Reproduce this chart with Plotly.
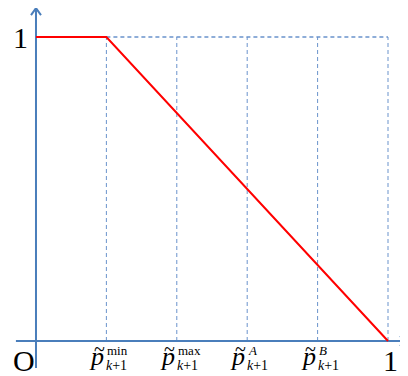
import plotly.graph_objects as go

# data
tick_x = [0.2, 0.4, 0.6, 0.8, 1.0]
tick_sup = ["min", "max", "<i>A</i>", "<i>B</i>"]
curve_x = [0.0, 0.2, 1.0]
curve_y = [1.0, 1.0, 0.0]

AXIS = "#4a7ebb"
DASH = "#6a93cc"
FONT = "Liberation Serif"

fig = go.Figure()

# dashed verticals
for tx in tick_x:
    fig.add_trace(go.Scatter(x=[tx, tx], y=[0, 1], mode="lines",
                             line=dict(color=DASH, width=1, dash="4px,3px"),
                             hoverinfo="skip", showlegend=False))
# dashed horizontal at top
fig.add_trace(go.Scatter(x=[tick_x[0], tick_x[-1]], y=[1, 1], mode="lines",
                         line=dict(color=DASH, width=1.5, dash="4px,3px"),
                         hoverinfo="skip", showlegend=False))

# axes lines
fig.add_trace(go.Scatter(x=[-0.057, 1.051], y=[0, 0], mode="lines",
                         line=dict(color=AXIS, width=2), hoverinfo="skip", showlegend=False))
fig.add_trace(go.Scatter(x=[0, 0], y=[-0.089, 1.095], mode="lines",
                         line=dict(color=AXIS, width=2), hoverinfo="skip", showlegend=False))

# red curve
fig.add_trace(go.Scatter(x=curve_x, y=curve_y, mode="lines",
                         line=dict(color="#ff0000", width=2), hoverinfo="skip", showlegend=False))

shapes = [
    dict(type="path", xref="x", yref="y", xsizemode="pixel", ysizemode="pixel",
         xanchor=0, yanchor=1.095, path="M -5,-7 L 0,0 L 5,-7",
         line=dict(color=AXIS, width=2)),
    dict(type="path", xref="x", yref="y", xsizemode="pixel", ysizemode="pixel",
         xanchor=1.051, yanchor=0, path="M -6,5 L 0,0 L -6,-5",
         line=dict(color=AXIS, width=2)),
]

ann = []
big = dict(family=FONT, size=30, color="black")
ann.append(dict(x=0, y=1, xref="x", yref="y", text="1", showarrow=False,
                xanchor="center", yanchor="middle", xshift=-15, font=big))
ann.append(dict(x=0, y=0, xref="x", yref="y", text="O", showarrow=False,
                xanchor="center", yanchor="middle", xshift=-12, yshift=-19, font=big))
ann.append(dict(x=1, y=0, xref="x", yref="y", text="1", showarrow=False,
                xanchor="center", yanchor="middle", xshift=2, yshift=-19, font=big))

for tx, sup in zip(tick_x[:-1], tick_sup):
    ann.append(dict(x=tx, y=0, xref="x", yref="y", text="<i>p</i>", showarrow=False,
                    xanchor="right", yanchor="middle", xshift=0, yshift=-15,
                    font=dict(family=FONT, size=26, color="black")))
    ann.append(dict(x=tx, y=0, xref="x", yref="y", text="~", showarrow=False,
                    xanchor="center", yanchor="middle", xshift=-7, yshift=-8,
                    font=dict(family=FONT, size=20, color="black")))
    ann.append(dict(x=tx, y=0, xref="x", yref="y", text=sup, showarrow=False,
                    xanchor="left", yanchor="middle", xshift=-1, yshift=-9,
                    font=dict(family=FONT, size=13, color="black")))
    ann.append(dict(x=tx, y=0, xref="x", yref="y", text="<i>k</i>+1", showarrow=False,
                    xanchor="left", yanchor="middle", xshift=-2, yshift=-24,
                    font=dict(family=FONT, size=14, color="black")))

# page has an 8px body margin: size the figure so the visible window matches
fig.update_layout(
    width=400, height=368,
    margin=dict(l=0, r=0, t=0, b=0),
    paper_bgcolor="white", plot_bgcolor="white",
    xaxis=dict(range=[-0.0795, 1.0568], visible=False, fixedrange=True),
    yaxis=dict(range=[-0.1151, 1.0954], visible=False, fixedrange=True),
    shapes=shapes, annotations=ann, showlegend=False,
)

fig.write_html("out.html")
